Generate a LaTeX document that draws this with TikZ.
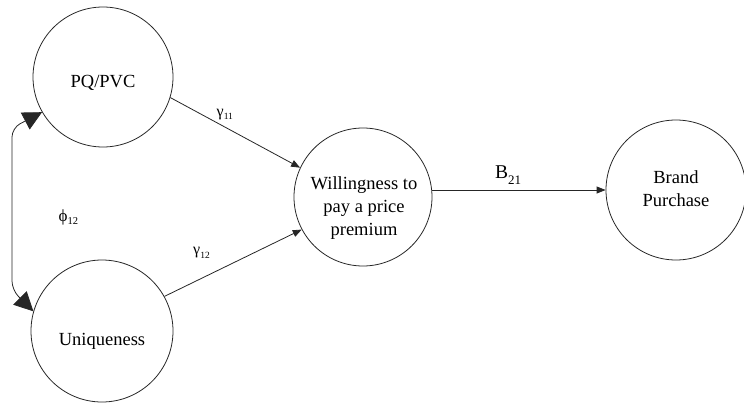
\documentclass[tikz,border=0pt]{standalone}
\usepackage{fontspec}
\setmainfont{Liberation Serif}
\usetikzlibrary{arrows.meta}
\tikzset{
  circ/.style={circle, draw=black!85, line width=0.8pt, inner sep=0pt},
  ctext/.style={align=center, font=\fontsize{18.5}{23}\selectfont, inner sep=0pt},
  conn/.style={draw=black!85, line width=0.8pt, -{Triangle[length=9pt,width=7pt]}},
  corr/.style={draw=black!85, line width=0.8pt, rounded corners=9pt,
    {Triangle[length=19pt,width=19pt]}-{Triangle[length=19pt,width=19pt]}},
  lab/.style={anchor=base west, inner sep=0pt}
}
\begin{document}
\begin{tikzpicture}[x=1pt,y=-1pt]
\useasboundingbox (0,0) rectangle (744,404);
% circles
\node[circ, minimum size=140pt] (PQ) at (103,77) {};
\node[circ, minimum size=142pt] (U) at (102,331) {};
\node[circ, minimum size=138pt] (W) at (363,197) {};
\node[circ, minimum size=140pt] (B) at (676,190) {};
% texts
\node[ctext] (PQt) at (103,82.5) {PQ/PVC};
\node[ctext] (Ut) at (102,341.5) {Uniqueness};
\node[ctext] (Wt) at (364,208) {Willingness to\\pay a price\\premium};
\node[ctext] (Bt) at (676,189) {Brand\\Purchase};
% connectors
\draw[conn] (PQ.343) -- (W.155);
\draw[conn] (U.29) -- (W.208);
\draw[conn] (W.east |- B.west) -- (B.west);
\coordinate (c1) at (12,128);
\coordinate (c2) at (12,290);
\draw[corr] (PQ.210) -- (c1) -- (c2) -- (U.164);
% labels
\node[lab] (g11) at (216.5,116.4) {\fontsize{16}{16}\selectfont γ\raisebox{-2.6pt}{\fontsize{9.5}{9.5}\selectfont 11}};
\node[lab] (g12) at (193,254) {\fontsize{16}{16}\selectfont γ\raisebox{-4pt}{\fontsize{9.5}{9.5}\selectfont 12}};
\node[lab] (p12) at (58.5,221) {\fontsize{17}{17}\selectfont ϕ\raisebox{-3pt}{\fontsize{10.5}{10.5}\selectfont 12}};
\node[lab] (b21) at (495,178) {\fontsize{19.5}{19.5}\selectfont B\raisebox{-6.5pt}{\fontsize{13}{13}\selectfont 21}};
\end{tikzpicture}
\end{document}
